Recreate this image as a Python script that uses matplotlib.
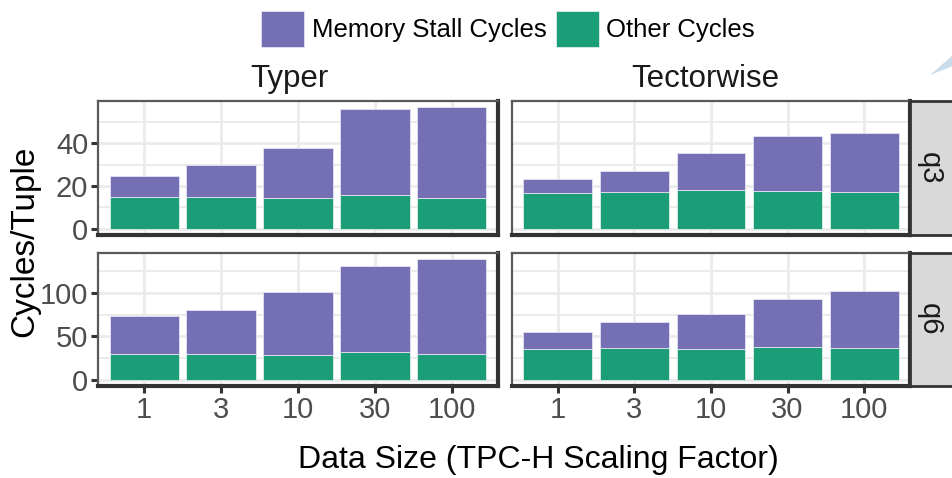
import matplotlib
matplotlib.use("Agg")
import matplotlib.pyplot as plt
from matplotlib.patches import Patch, Polygon
import numpy as np

plt.rcParams['font.family'] = ['Liberation Sans', 'DejaVu Sans']

# ---- data ----
sizes = ["1", "3", "10", "30", "100"]
systems = ["Typer", "Tectorwise"]
queries = ["q3", "q6"]

typer_q3_other = [14.8, 14.8, 14.3, 15.6, 14.6]
typer_q3_mem = [10.0, 15.1, 23.4, 40.5, 42.2]
tw_q3_other = [16.6, 17.4, 18.2, 17.8, 17.1]
tw_q3_mem = [6.8, 9.4, 17.3, 25.5, 27.8]
typer_q6_other = [29.4, 29.4, 28.3, 32.2, 29.4]
typer_q6_mem = [43.4, 50.6, 72.4, 98.8, 109.2]
tw_q6_other = [36.0, 36.3, 35.2, 38.3, 37.1]
tw_q6_mem = [18.7, 30.7, 40.7, 54.8, 64.4]

data = {
    ("q3", "Typer"): (typer_q3_other, typer_q3_mem),
    ("q3", "Tectorwise"): (tw_q3_other, tw_q3_mem),
    ("q6", "Typer"): (typer_q6_other, typer_q6_mem),
    ("q6", "Tectorwise"): (tw_q6_other, tw_q6_mem),
}
row_major = {"q3": [0, 20, 40], "q6": [0, 50, 100]}
row_minor = {"q3": [10, 30, 50], "q6": [25, 75, 125]}

C_MEM = "#7570b3"
C_OTHER = "#1b9e77"

W, H = 953, 478
fig = plt.figure(figsize=(W / 100, H / 100), dpi=100)

def fax(x0, y0, x1, y1):
    return fig.add_axes([x0 / W, 1 - y1 / H, (x1 - x0) / W, (y1 - y0) / H])

col_x = [(98, 498), (512, 910)]
row_y = [(101, 235), (253, 386)]
title_x = [289, 705]

x = np.arange(1, len(sizes) + 1)
for ri, q in enumerate(queries):
    ymax = max(max(np.array(o) + np.array(m)) for (qq, s), (o, m) in data.items() if qq == q)
    for ci, s in enumerate(systems):
        ax = fax(col_x[ci][0], row_y[ri][0], col_x[ci][1], row_y[ri][1])
        other, mem = data[(q, s)]
        ax.set_axisbelow(True)
        ax.bar(x, other, width=0.9, color=C_OTHER, edgecolor="#dfeee9", linewidth=0.6, zorder=2)
        ax.bar(x, mem, bottom=other, width=0.9, color=C_MEM, edgecolor="#e4e2f2", linewidth=0.6, zorder=2)
        ax.set_xlim(0.4, len(sizes) + 0.6)
        ax.set_ylim(-0.05 * ymax, 1.05 * ymax)
        ax.set_yticks(row_major[q])
        ax.set_yticks(row_minor[q], minor=True)
        ax.set_xticks(x)
        ax.grid(True, which="major", color="#ebebeb", linewidth=2.0, zorder=0)
        ax.grid(True, which="minor", axis="y", color="#ebebeb", linewidth=1.4, zorder=0)
        ax.tick_params(which="minor", length=0)
        ax.tick_params(which="major", length=5, width=2.2, color="#333333",
                       labelsize=21, labelcolor="#4d4d4d", pad=2)
        if ci == 0:
            ax.set_yticklabels([str(v) for v in row_major[q]])
        else:
            ax.tick_params(axis="y", left=False, labelleft=False)
        if ri == len(queries) - 1:
            ax.set_xticklabels(sizes)
        else:
            ax.tick_params(axis="x", bottom=False, labelbottom=False)
        for side in ["top", "left"]:
            ax.spines[side].set_color("#5a5a5a")
            ax.spines[side].set_linewidth(1.6)
        for side in ["right", "bottom"]:
            ax.spines[side].set_color("#333333")
            ax.spines[side].set_linewidth(3.0)
        if ri == 0:
            fig.text(title_x[ci] / W, 1 - 79 / H, s,
                     ha="center", va="center", fontsize=22.5, color="#1a1a1a")
    # right strip
    sax = fax(910, row_y[ri][0], 953, row_y[ri][1])
    sax.set_facecolor("#d9d9d9")
    sax.set_xticks([]); sax.set_yticks([])
    for side in sax.spines.values():
        side.set_color("#333333")
        side.set_linewidth(2.0)
    sax.text(0.46, 0.5, q, rotation=270, ha="center", va="center",
             fontsize=21, color="#1a1a1a", transform=sax.transAxes)

fig.text(25 / W, 1 - 241 / H, "Cycles/Tuple", rotation=90, ha="center", va="center",
         fontsize=24, color="black")
fig.text(538 / W, 1 - 460 / H, "Data Size (TPC-H Scaling Factor)", ha="center", va="center",
         fontsize=23, color="black")

handles = [Patch(facecolor=C_MEM, edgecolor="#e4e2f2", linewidth=0.6),
           Patch(facecolor=C_OTHER, edgecolor="#dfeee9", linewidth=0.6)]
fig.legend(handles, ["Memory Stall Cycles", "Other Cycles"], ncol=2,
           loc="center", bbox_to_anchor=(508 / W, 1 - 29 / H), frameon=False,
           fontsize=18.5, handlelength=1.68, handleheight=1.8, handletextpad=0.28,
           columnspacing=0.36, borderaxespad=0, borderpad=0)

# light-blue decorative wedge at top right
fig.patches.append(Polygon([(930 / W, 1 - 75 / H), (953 / W, 1 - 55 / H), (953 / W, 1 - 66 / H)],
                           closed=True, transform=fig.transFigure, facecolor="#c9dcec",
                           edgecolor="none"))

fig.savefig("out.png", dpi=100)
